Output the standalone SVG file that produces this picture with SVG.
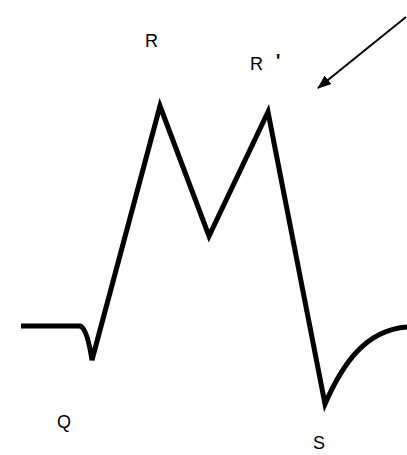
<svg xmlns="http://www.w3.org/2000/svg" width="407" height="455" viewBox="0 0 407 455">
<style>
.wave{fill:none;stroke:#000;stroke-width:5;stroke-linejoin:miter;stroke-linecap:butt}
.lbl{font-family:"Liberation Sans",Arial,sans-serif;font-size:18px;fill:#000}
.arr{stroke:#000;stroke-width:2;fill:none}
</style>
<defs>
<marker id="ah" markerWidth="14" markerHeight="11" refX="13" refY="5.5" orient="auto" markerUnits="userSpaceOnUse" viewBox="0 0 14 11">
<path d="M0,0 L14,5.5 L0,11 z" fill="#000"/>
</marker>
</defs>
<rect width="407" height="455" fill="#fff"/>
<path class="wave" d="M21,326 L80,326 Q87,328 92,360 L160,106 L209,236 L268,112 L325,404 C342,365 365,330 407,327"/>
<line class="arr" x1="406" y1="17" x2="318" y2="88" marker-end="url(#ah)"/>
<text class="lbl" x="145" y="47">R</text>
<text class="lbl" x="250" y="70">R</text>
<text class="lbl" x="276" y="67" font-weight="bold">'</text>
<text class="lbl" x="57" y="428">Q</text>
<text class="lbl" x="313" y="449">S</text>
</svg>
